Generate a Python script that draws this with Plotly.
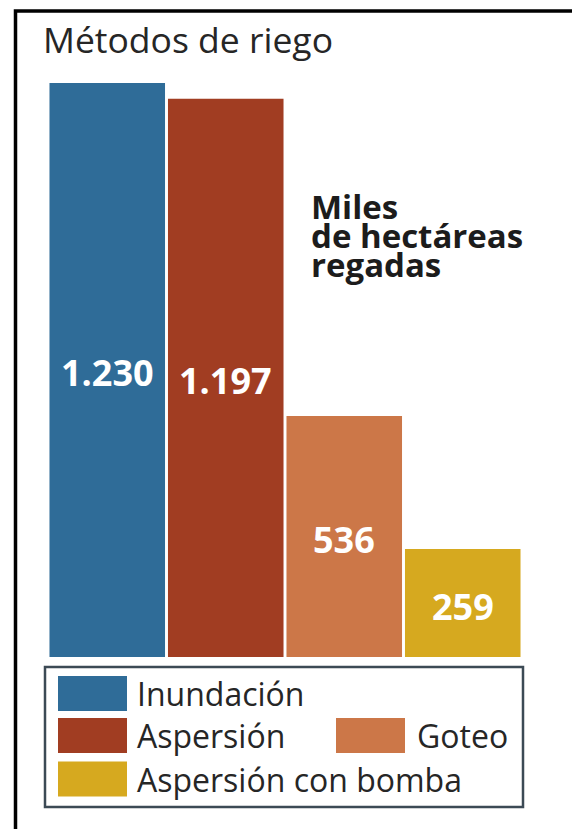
import plotly.graph_objects as go

# ---- data ----
CATEGORIES = ["Inundación", "Aspersión", "Goteo", "Aspersión con bomba"]
VALUES = [1230, 1197, 536, 259]  # miles de hectáreas regadas
TITLE = "Métodos de riego"
UNIT_LINES = ["Miles", "de hectáreas", "regadas"]

# ---- style ----
COLORS = ["#2F6C98", "#A13D22", "#CC7748", "#D6A91F"]
W, H = 573, 829
L, R, T, B = 48, 51, 40, 172
PW, PH = W - L - R, H - T - B
FONT = "Open Sans"
Y0 = 34
PX_PER_UNIT = 0.48


def px_x(px):
    return (px - L) / PW


def px_y(py):
    return (H - B - py) / PH


fig = go.Figure()
fig.add_trace(go.Bar(
    x=CATEGORIES,
    y=VALUES,
    marker=dict(color=COLORS, line=dict(width=0)),
    showlegend=False,
    hoverinfo="skip",
))

shapes = []
annotations = []

# value labels centred in the visible part of each bar
for cat, v in zip(CATEGORIES, VALUES):
    annotations.append(dict(text=f"{v:,}".replace(",", "."), xref="x", yref="y",
                            x=cat, y=(v + Y0) / 2, yshift=-3, showarrow=False,
                            xanchor="center", yanchor="middle",
                            font=dict(family=FONT, size=36, color="white", weight="bold")))

# outer frame (only top/left visible)
shapes.append(dict(type="path", xref="paper", yref="paper",
                   path=f"M {px_x(15.5)},{px_y(840)} L {px_x(15.5)},{px_y(11)} L {px_x(572)},{px_y(11)}",
                   line=dict(color="black", width=3.5), layer="above"))

# title
annotations.append(dict(text=TITLE, xref="paper", yref="paper", x=px_x(41), y=px_y(39),
                        xanchor="left", yanchor="middle", showarrow=False,
                        font=dict(family=FONT, size=35.5, color="#262626")))

# unit text
for i, line in enumerate(UNIT_LINES):
    annotations.append(dict(text=line, xref="paper", yref="paper", x=px_x(309), y=px_y(207 + 28.5 * i),
                            xanchor="left", yanchor="middle", showarrow=False,
                            font=dict(family=FONT, size=33, color="#1c1c1c", weight="bold")))

# legend box
shapes.append(dict(type="rect", xref="paper", yref="paper",
                   x0=px_x(45), x1=px_x(523), y0=px_y(667), y1=px_y(807),
                   line=dict(color="#3c4a55", width=2.5), fillcolor="white"))

# legend items: (category index, swatch left, row center y, text left)
legend_pos = [(0, 58, 693.5, 135), (1, 58, 735.5, 135), (2, 336, 735.5, 415), (3, 58, 779, 135)]
for idx, sx, cy, tx in legend_pos:
    shapes.append(dict(type="rect", xref="paper", yref="paper",
                       x0=px_x(sx), x1=px_x(sx + 69), y0=px_y(cy - 17.5), y1=px_y(cy + 17.5),
                       line=dict(width=0), fillcolor=COLORS[idx]))
    annotations.append(dict(text=CATEGORIES[idx], xref="paper", yref="paper", x=px_x(tx), y=px_y(cy),
                            xanchor="left", yanchor="middle", showarrow=False,
                            font=dict(family=FONT, size=32, color="#262626")))

fig.update_layout(
    width=W, height=H,
    margin=dict(l=L, r=R, t=T, b=B, pad=0),
    paper_bgcolor="white", plot_bgcolor="white",
    bargap=0.025,
    xaxis=dict(visible=False),
    yaxis=dict(visible=False, range=[Y0, Y0 + PH / PX_PER_UNIT]),
    shapes=shapes,
    annotations=annotations,
)

fig.write_html("out.html",
               config={"displayModeBar": False},
               post_script="document.body.style.margin='0';document.body.style.overflow='hidden';")
